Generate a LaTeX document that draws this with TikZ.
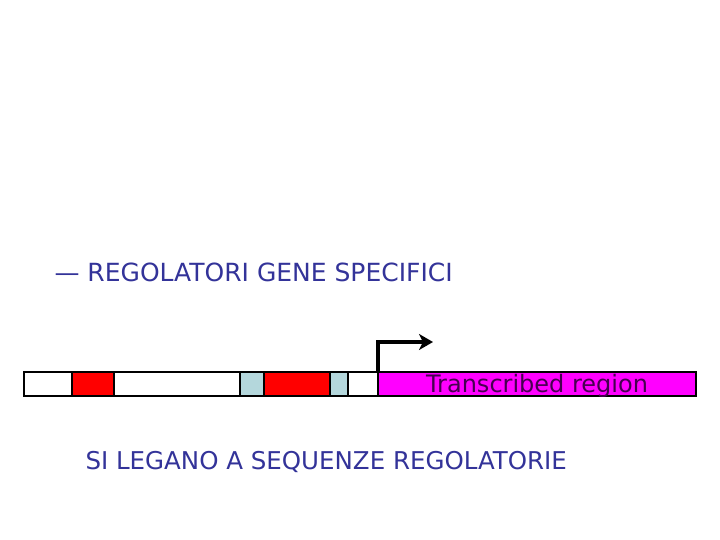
\documentclass[tikz,border=0pt]{standalone}
\usepackage{fontspec}
\setmainfont{DejaVu Sans}
\usetikzlibrary{arrows.meta}
\definecolor{navy}{RGB}{51,51,153}
\definecolor{genred}{RGB}{255,0,0}
\definecolor{lightblue}{RGB}{180,215,220}
\definecolor{magentabox}{RGB}{255,0,255}
\definecolor{darkpurple}{RGB}{70,0,80}
\tikzset{
    segment/.style={draw,line width=1.2pt},
    label/.style={anchor=base west,text=navy}
}

\begin{document}
\begin{tikzpicture}[x=1pt,y=-1pt]
    \useasboundingbox[fill=white] (0,0) rectangle (720,540);
    % DNA bar
    \draw[segment,fill=white] (24,372) rectangle (72,396);
    \draw[segment,fill=genred] (72,372) rectangle (114,396);
    \draw[segment,fill=white] (114,372) rectangle (240,396);
    \draw[segment,fill=lightblue] (240,372) rectangle (264,396);
    \draw[segment,fill=genred] (264,372) rectangle (330,396);
    \draw[segment,fill=lightblue] (330,372) rectangle (348,396);
    \draw[segment,fill=white] (348,372) rectangle (378,396);
    \draw[segment,fill=magentabox] (378,372) rectangle (696,396);
    \node[anchor=base,text=darkpurple,font=\fontsize{24}{28}\selectfont] (region) at (537,392) {Transcribed region};
    % promoter arrow
    \coordinate (tss) at (378,371);
    \coordinate (tssend) at (433,342);
    \draw[line width=4pt,-{Stealth[length=14pt,width=16pt,inset=4pt]}] (tss) |- (tssend);
    % labels
    \node[label,font=\fontsize{25}{30}\selectfont] (title) at (51,281) {— REGOLATORI GENE SPECIFICI};
    \node[label,font=\fontsize{24.5}{29}\selectfont] (note) at (82,469) {SI LEGANO A SEQUENZE REGOLATORIE};
\end{tikzpicture}
\end{document}
